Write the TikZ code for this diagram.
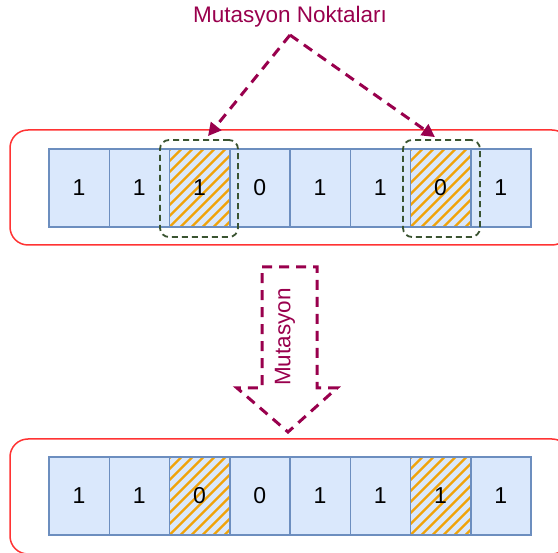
\documentclass[tikz,border=0pt]{standalone}
\usepackage{fontspec}
\setmainfont{Liberation Sans}
\usetikzlibrary{arrows.meta}
\definecolor{maroon}{HTML}{99004D}
\definecolor{cellfill}{HTML}{DAE8FC}
\definecolor{cellline}{HTML}{6C8EBF}
\definecolor{hatchc}{HTML}{F0A30A}
\definecolor{outerred}{HTML}{FF3333}
\definecolor{darkgreen}{HTML}{3A5431}
\tikzset{
  cell/.style={draw=cellline, fill=cellfill, line width=1.5pt, minimum width=60.25pt, minimum height=78pt, inner sep=0pt, outer sep=0pt, font=\fontsize{23}{26}\selectfont},
  hatched/.style={path picture={
      \foreach \k in {-88,-77,...,70}{
        \draw[hatchc, line width=2.2pt] ([xshift=\k pt]path picture bounding box.south west) -- ++(100pt,100pt);
      }}},
  outerbox/.style={draw=outerred, line width=1.5pt, rounded corners=18pt, minimum width=560pt, minimum height=115pt, inner sep=0pt},
  mutbox/.style={draw=darkgreen, line width=1.8pt, dash pattern=on 6pt off 4pt, rounded corners=9pt, minimum height=97pt, inner sep=0pt},
  mline/.style={draw=maroon, line width=3pt, dash pattern=on 10pt off 7pt},
  mtext/.style={text=maroon, font=\fontsize{22.5}{26}\selectfont, inner sep=0pt}
}
\begin{document}
\begin{tikzpicture}[x=1pt, y=-1pt]
\useasboundingbox (0,0) rectangle (558,553);
% outer boxes
\node[outerbox] (top) at (290,187.5) {};
\node[outerbox] (bottom) at (290,496.5) {};
% top row
\foreach \v [count=\i] in {1,1,1,0,1,1,0,1}{
  \ifnum\i=3
    \node[cell, hatched] (t\i) at ({49+60.25*(\i-0.5)},188) {\v};
  \else\ifnum\i=7
    \node[cell, hatched] (t\i) at ({49+60.25*(\i-0.5)},188) {\v};
  \else
    \node[cell] (t\i) at ({49+60.25*(\i-0.5)},188) {\v};
  \fi\fi
}
% bottom row
\foreach \v [count=\i] in {1,1,0,0,1,1,1,1}{
  \ifnum\i=3
    \node[cell, hatched] (b\i) at ({49+60.25*(\i-0.5)},496) {\v};
  \else\ifnum\i=7
    \node[cell, hatched] (b\i) at ({49+60.25*(\i-0.5)},496) {\v};
  \else
    \node[cell] (b\i) at ({49+60.25*(\i-0.5)},496) {\v};
  \fi\fi
}
% mutation point boxes
\node[mutbox, minimum width=78pt] (m1) at (199,188.5) {};
\node[mutbox, minimum width=77pt] (m2) at (441.5,188.5) {};
% title and arrows
\node[mtext] (title) at (290,17) {Mutasyon Noktaları};
\coordinate (apex) at (290,35);
\draw[mline, -{Triangle[length=13pt,width=13pt]}] (apex) -- ([xshift=9pt,yshift=3pt]m1.north);
\draw[mline, -{Triangle[length=13pt,width=13pt]}] (apex) -- ([xshift=-6.5pt,yshift=2pt]m2.north);
% big dashed block arrow
\draw[mline, line join=miter] (262,267) -- (317,267) -- (317,388) -- (337,388) -- (288,432) -- (237,388) -- (262,388) -- cycle;
\node[mtext, rotate=90] (mut) at (285,337) {Mutasyon};
\end{tikzpicture}
\end{document}
